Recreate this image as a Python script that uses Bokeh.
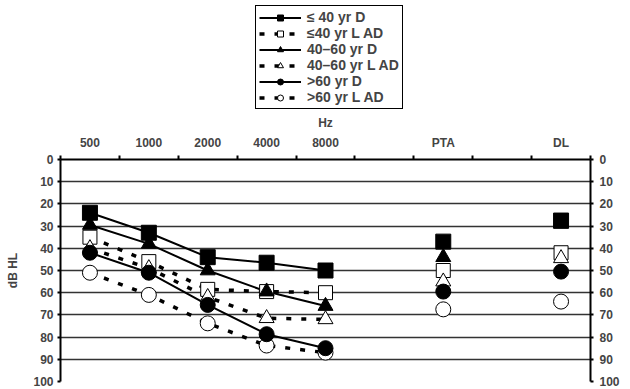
from bokeh.plotting import figure
from bokeh.layouts import column
from bokeh.models import Range1d, LinearAxis, FixedTicker, Legend, LegendItem
from bokeh.embed import file_html
from bokeh.resources import INLINE

# slots along the top axis (blank slots are gaps)
slots = ["500", "1000", "2000", "4000", "8000", "", "PTA", "", "DL"]
point_labels = ["500", "1000", "2000", "4000", "8000", "PTA", "DL"]
n_freq = 5  # first five points are connected by lines

le40_D = [24, 33, 44, 46.5, 50, 37, 27.5]
le40_LAD = [35, 46, 58.5, 59.5, 60, 50, 42]
m40_60_D = [29.5, 38, 50, 59.5, 66, 44, 29]
m40_60_LAD = [40, 49, 62, 71.5, 72, 55, 44.5]
gt60_D = [42, 51, 65.5, 78.7, 85, 59.5, 50.5]
gt60_LAD = [51, 61, 73.8, 83.8, 87, 67.5, 64]

series_labels = ["≤ 40 yr D", "≤40 yr L AD", "40–60 yr D", "40–60 yr L AD",
                 ">60 yr D", ">60 yr L AD"]
series_values = [le40_D, le40_LAD, m40_60_D, m40_60_LAD, gt60_D, gt60_LAD]
series_marker = ["square", "square", "triangle", "triangle", "circle", "circle"]
series_filled = [True, False, True, False, True, False]
series_size = [15, 14, 15, 15, 15, 15]

y_ticks = list(range(0, 101, 10))

FONT = "Liberation Sans"
TICK_FS = "12px"

xs = [slots.index(l) + 0.5 for l in point_labels]

LEG_H = 112

# ---------------- legend strip ----------------
pl = figure(width=630, height=LEG_H, output_backend="svg", toolbar_location=None,
            x_axis_type=None, y_axis_type=None,
            x_range=Range1d(0, 1), y_range=Range1d(0, 1),
            min_border_left=0, min_border_right=0, min_border_top=0, min_border_bottom=0)
pl.outline_line_color = None
pl.xgrid.visible = False
pl.ygrid.visible = False

# off-screen sample glyphs used only as legend swatches
hid_x = [-10, -9]
hid_y = [-10, -10]
leg_items = []
for lab, mk, fl in zip(series_labels, series_marker, series_filled):
    if fl:
        lr = pl.line(hid_x, hid_y, line_color="black", line_width=2)
    else:
        lr = pl.line(hid_x, hid_y, line_color="black", line_width=3.5, line_dash="5 10")
    mr = pl.scatter(hid_x, hid_y, marker=mk, size=8,
                    fill_color="black" if fl else "white", line_color="black", line_width=1)
    leg_items.append(LegendItem(label=lab, renderers=[lr, mr]))

legend = Legend(items=leg_items, location=(195, LEG_H - 13 - 96))
legend.label_text_font = FONT
legend.label_text_font_style = "bold"
legend.label_text_font_size = "14px"
legend.label_height = 15
legend.glyph_height = 15
legend.glyph_width = 42
legend.spacing = 0
legend.padding = 3
legend.margin = 0
legend.label_standoff = 6
legend.border_line_color = "black"
legend.border_line_alpha = 1
legend.border_line_width = 1.5
legend.background_fill_alpha = 1
pl.add_layout(legend, "center")

# ---------------- main chart ----------------
p = figure(width=630, height=389 - LEG_H, output_backend="svg", toolbar_location=None,
           x_range=Range1d(0, len(slots)), y_range=Range1d(100, 0),
           x_axis_location="above", y_axis_location="left",
           min_border_left=60, min_border_right=40, min_border_top=158 - LEG_H,
           min_border_bottom=8)
p.outline_line_color = None

xa = p.xaxis[0]
xa.ticker = FixedTicker(ticks=xs, minor_ticks=list(range(0, len(slots) + 1)))
xa.major_label_overrides = {x: l for x, l in zip(xs, point_labels)}
xa.major_tick_line_color = None
xa.minor_tick_line_color = "black"
xa.minor_tick_line_width = 2
xa.minor_tick_out = 4
xa.minor_tick_in = 0
xa.axis_line_width = 2
xa.axis_label = "Hz"
xa.axis_label_text_font = FONT
xa.axis_label_text_font_style = "bold"
xa.axis_label_text_font_size = TICK_FS
xa.axis_label_standoff = 3
xa.major_label_text_font = FONT
xa.major_label_text_font_style = "bold"
xa.major_label_text_font_size = TICK_FS
xa.major_label_standoff = 4

ya = p.yaxis[0]
ya.ticker = FixedTicker(ticks=y_ticks)
ya.minor_tick_line_color = None
ya.major_tick_out = 3
ya.major_tick_in = 0
ya.major_tick_line_width = 2
ya.axis_line_width = 2
ya.axis_label = "dB HL"
ya.axis_label_text_font = FONT
ya.axis_label_text_font_style = "bold"
ya.axis_label_text_font_size = TICK_FS
ya.axis_label_standoff = 10
ya.major_label_text_font = FONT
ya.major_label_text_font_style = "bold"
ya.major_label_text_font_size = TICK_FS
ya.major_label_standoff = 4

ra = LinearAxis(ticker=FixedTicker(ticks=y_ticks))
ra.minor_tick_line_color = None
ra.major_tick_out = 3
ra.major_tick_in = 0
ra.major_tick_line_width = 2
ra.axis_line_width = 2
ra.major_label_text_font = FONT
ra.major_label_text_font_style = "bold"
ra.major_label_text_font_size = TICK_FS
ra.major_label_standoff = 6
p.add_layout(ra, "right")

p.xgrid.visible = False
p.ygrid.ticker = FixedTicker(ticks=y_ticks)
p.ygrid.grid_line_color = "#333333"
p.ygrid.grid_line_width = 1.5

for lab, vals, fl in zip(series_labels, series_values, series_filled):
    if fl:
        p.line(xs[:n_freq], vals[:n_freq], line_color="black", line_width=2)
    else:
        p.line(xs[:n_freq], vals[:n_freq], line_color="black", line_width=3.5,
               line_dash="5 10")

# markers: open first, filled on top
for want_filled in (False, True):
    for vals, mk, fl, sz in zip(series_values, series_marker, series_filled, series_size):
        if fl != want_filled:
            continue
        p.scatter(xs, vals, marker=mk, size=sz,
                  fill_color="black" if fl else "white",
                  line_color="black", line_width=1)

open("out.html", "w").write(file_html(column(pl, p), INLINE))
